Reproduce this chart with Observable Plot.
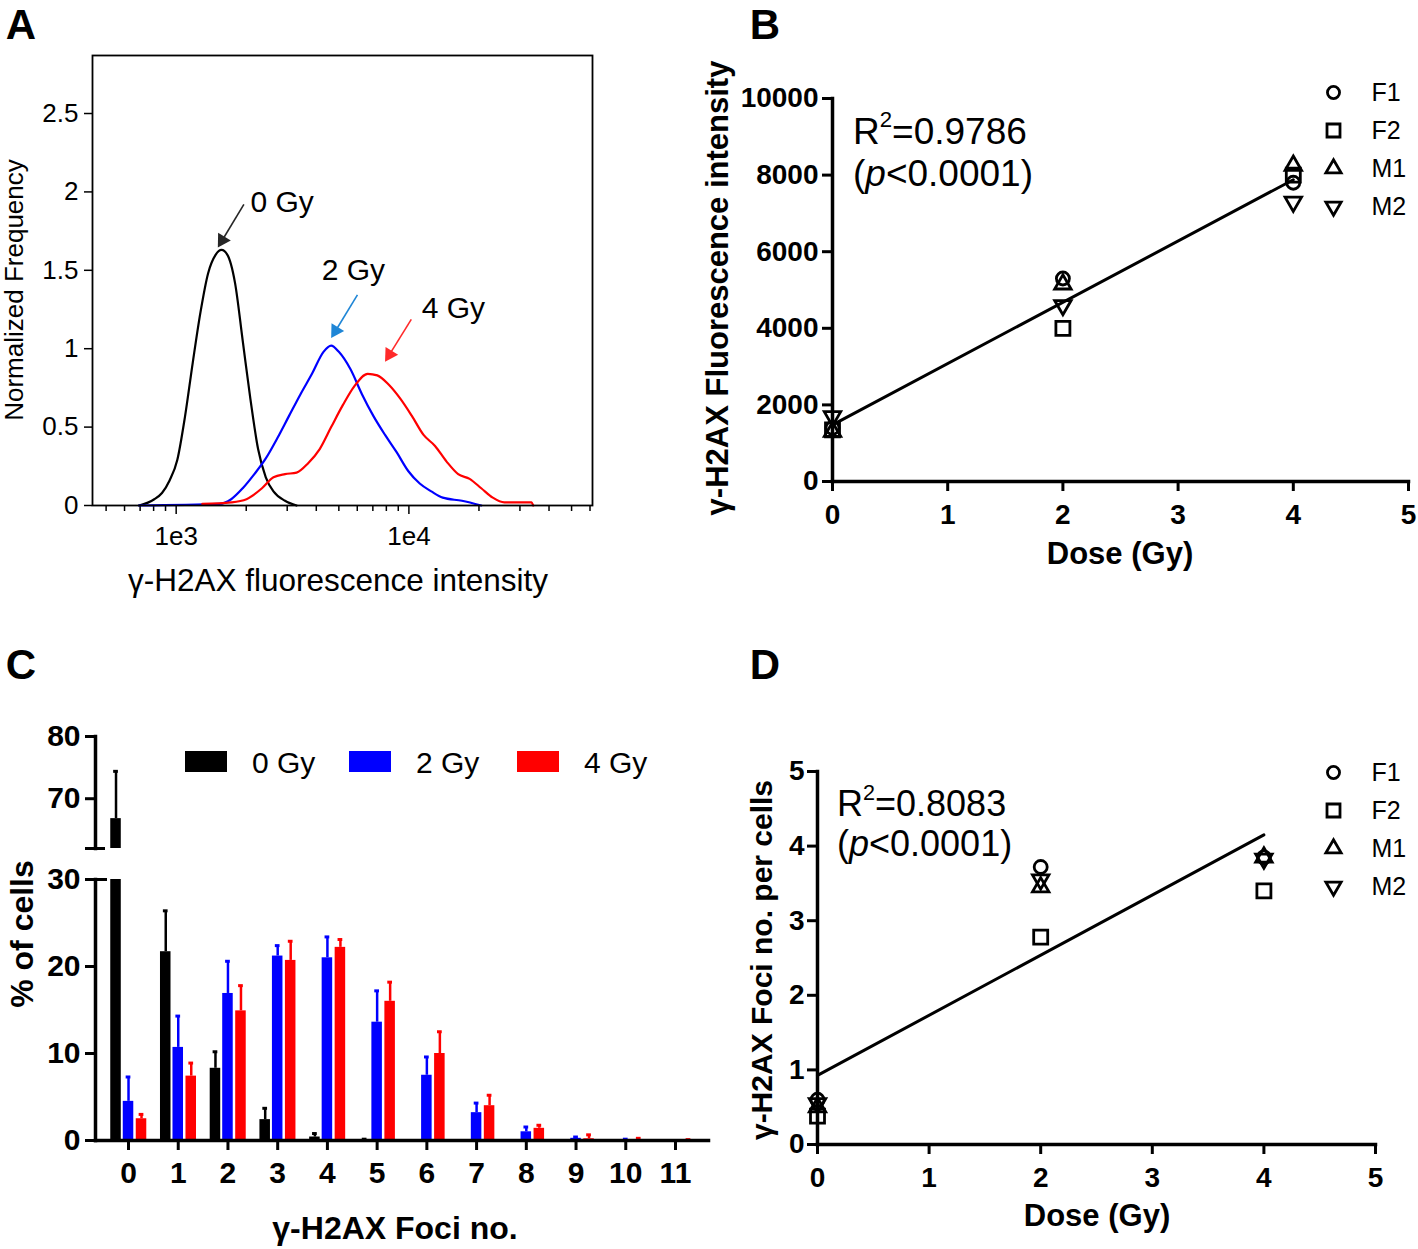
<!DOCTYPE html>
<html><head><meta charset="utf-8">
<script src="https://cdn.jsdelivr.net/npm/d3@7"></script>
<script src="https://cdn.jsdelivr.net/npm/@observablehq/plot@0.6"></script>
<style>
body{margin:0;background:#fff;}
#root{position:relative;width:1418px;height:1249px;overflow:hidden;background:#fff;font-family:"Liberation Sans",Arial,Helvetica,sans-serif;color:#000;}
.abs{position:absolute;white-space:nowrap;line-height:1;}
.ctr{transform:translate(-50%,-50%);}
.vc{transform:translate(0,-50%);}
.rot{transform:translate(-50%,-50%) rotate(-90deg);}
.b{font-weight:bold;}
sup{font-size:0.6em;position:relative;top:-0.75em;vertical-align:baseline;}
.sw{position:absolute;}
</style></head><body><div id="root"></div><script>
// ---------------- DATA ----------------
// Panel A: histograms (intensity, normalized frequency)
const hist0Gy = [[692,0],[805,0.04],[869,0.08],[937,0.16],[1011,0.29],[1092,0.57],[1178,0.91],[1271,1.23],[1371,1.48],[1479,1.6],[1566,1.63],[1658,1.6],[1790,1.42],[1932,1.05],[2084,0.68],[2249,0.36],[2427,0.18],[2619,0.09],[2936,0.03],[3291,0]];
const hist2Gy = [[692,0],[1537,0.01],[1723,0.04],[1932,0.11],[2167,0.2],[2427,0.3],[2723,0.43],[3051,0.57],[3422,0.71],[3833,0.84],[4295,0.98],[4634,1.02],[5000,0.98],[5605,0.87],[6284,0.71],[7043,0.57],[7899,0.45],[8855,0.34],[9932,0.22],[11130,0.14],[12480,0.09],[13970,0.05],[16900,0.03],[20460,0]];
const hist4Gy = [[1295,0.01],[1723,0.02],[2005,0.04],[2337,0.11],[2619,0.18],[2936,0.2],[3291,0.21],[3690,0.27],[4138,0.36],[4634,0.5],[5200,0.64],[5823,0.76],[6653,0.84],[7315,0.83],[8200,0.77],[9200,0.68],[10310,0.57],[11560,0.45],[12950,0.38],[14520,0.28],[16280,0.2],[18240,0.17],[20460,0.11],[22930,0.05],[25700,0.02],[33590,0.02],[34200,0]];
const histLabels = ["0 Gy","2 Gy","4 Gy"];
const arrowTail = [[1954,1.92],[6010,1.343],[10240,1.187]];
const arrowHead = [[1510,1.645],[4634,1.068],[7900,0.917]];
const labelAt = [[2084,1.93],[4217,1.50],[11350,1.256]];
const yTicksA = [0,0.5,1,1.5,2,2.5];
const xMajorA = [1000, 10000];

// Panels B & D
const doses = [0, 2, 4];
const seriesNames = ["F1","F2","M1","M2"];
const fluorF1 = [1400, 5300, 7800];
const fluorF2 = [1350, 4000, 8000];
const fluorM1 = [1300, 5150, 8250];
const fluorM2 = [1700, 4600, 7300];
const fociF1 = [0.6, 3.72, 3.85];
const fociF2 = [0.38, 2.78, 3.4];
const fociM1 = [0.5, 3.45, 3.85];
const fociM2 = [0.55, 3.55, 3.83];
const r2B = "0.9786", r2D = "0.8083", pText = "0.0001";

// Panel C
const fociNo = [0,1,2,3,4,5,6,7,8,9,10,11];
const doseLabels = ["0 Gy","2 Gy","4 Gy"];
const pct0Gy = [66.8, 21.7, 8.3, 2.4, 0.4, 0.08, 0, 0, 0, 0, 0, 0];
const sd0Gy  = [7.6, 4.7, 1.9, 1.3, 0.4, 0.07, 0, 0, 0, 0, 0, 0];
const pct2Gy = [4.5, 10.7, 16.9, 21.2, 21.0, 13.6, 7.5, 3.2, 1.0, 0.25, 0.1, 0];
const sd2Gy  = [2.8, 3.6, 3.7, 1.2, 2.4, 3.6, 2.1, 1.1, 0.55, 0.15, 0.05, 0];
const pct4Gy = [2.5, 7.4, 14.9, 20.7, 22.2, 16.0, 10.0, 4.0, 1.4, 0.2, 0.1, 0.05];
const sd4Gy  = [0.5, 1.5, 2.9, 2.2, 0.9, 2.2, 2.5, 1.2, 0.35, 0.45, 0.15, 0.05];

// ---------------- STYLE ----------------
const FONT = '"Liberation Sans", Arial, Helvetica, sans-serif';
const colorA = {"0 Gy":"#000000","2 Gy":"#0000ff","4 Gy":"#ff0000"};
const arrowColorA = {"0 Gy":"#262626","2 Gy":"#1f86d6","4 Gy":"#ff2a2a"};
const colorC = {"0 Gy":"#000000","2 Gy":"#0000ff","4 Gy":"#ff0000"};
const offsetC = {"0 Gy":-12.5,"2 Gy":0,"4 Gy":13};

const root = document.getElementById("root");
function put(node, left, top){ node.style.position="absolute"; node.style.left=left+"px"; node.style.top=top+"px"; root.appendChild(node); return node; }
function txt(html, left, top, cls, css){ const d=document.createElement("div"); d.className="abs "+(cls||""); d.innerHTML=html; d.style.left=left+"px"; d.style.top=top+"px"; Object.assign(d.style, css||{}); root.appendChild(d); return d; }

// custom outline symbols (size = pi*r^2)
const rad = size => Math.sqrt(size/Math.PI);
const symCircle = { draw(c, size){ const r = rad(size)*0.93; c.moveTo(r,0); c.arc(0,0,r,0,2*Math.PI); } };
const symSquare = { draw(c, size){ const h = rad(size)*1.0; c.rect(-h,-h,2*h,2*h); } };
const symTriUp = { draw(c, size){ const s = rad(size)*2.35, h = s*Math.sqrt(3)/2; c.moveTo(0,-2*h/3); c.lineTo(s/2,h/3); c.lineTo(-s/2,h/3); c.closePath(); } };
const symTriDown = { draw(c, size){ const s = rad(size)*2.35, h = s*Math.sqrt(3)/2; c.moveTo(0,2*h/3); c.lineTo(s/2,-h/3); c.lineTo(-s/2,-h/3); c.closePath(); } };
const symbolScale = {domain: seriesNames, range: [symCircle, symSquare, symTriUp, symTriDown]};

// ---------------- PANEL A ----------------
const minorTicksA = [];
for (const e of [2,3,4]) for (let m=2;m<10;m++){ const v=m*10**e; if (v>=437 && v<=61500) minorTicksA.push(v); }
const histSets = [hist0Gy, hist2Gy, hist4Gy];
const arrowsA = histLabels.map((l,i)=>({label:l, x1:arrowTail[i][0], y1:arrowTail[i][1], x2:arrowHead[i][0], y2:arrowHead[i][1]}));
const textA = histLabels.map((l,i)=>({label:l, x:labelAt[i][0], y:labelAt[i][1]}));

function buildA(extra){
  return Plot.plot({
    width: 600, height: 560, marginLeft: 92, marginRight: 8, marginTop: 15, marginBottom: 95,
    x: {type: "log", domain: [437, 61500]},
    y: {domain: [0, 2.87]},
    style: {fontFamily: FONT, fontSize: "26px", background: "transparent", color: "#000", overflow: "visible"},
    marks: [
      Plot.axisY({ticks: yTicksA, tickFormat: d => String(d), tickSize: 8, tickPadding: 6, strokeWidth: 1.5, label: null}),
      Plot.axisX({ticks: minorTicksA, tickFormat: () => "", tickSize: 6, strokeWidth: 1.5, label: null}),
      Plot.axisX({ticks: xMajorA, tickFormat: d => "1e" + Math.round(Math.log10(d)), tickSize: 9, tickPadding: 12, strokeWidth: 1.5, label: null}),
      ...histSets.map((h,i) => Plot.line(h, {x: d => d[0], y: d => d[1], stroke: colorA[histLabels[i]], strokeWidth: 2.2, curve: "monotone-x"})),
      Plot.text(textA, {x:"x", y:"y", text:"label", textAnchor:"start", fontSize: 30}),
      ...extra,
      Plot.frame({stroke: "#000", strokeWidth: 1.8})
    ]
  });
}
// first pass to get scales, then draw arrows with filled triangular heads
const probeA = buildA([]);
const sxA = probeA.scale("x"), syA = probeA.scale("y");
const headR = 5.5, headBack = 2*Math.sqrt((Math.PI*headR*headR)/(3*Math.sqrt(3)));
const arrowMarks = arrowsA.flatMap(a => {
  const x1 = sxA.apply(a.x1), y1 = syA.apply(a.y1), x2 = sxA.apply(a.x2), y2 = syA.apply(a.y2);
  const dx = x2-x1, dy = y2-y1, len = Math.hypot(dx,dy);
  const cx = x2 - dx/len*headBack, cy = y2 - dy/len*headBack;
  const head = {x: sxA.invert(cx), y: syA.invert(cy), angle: Math.atan2(dx, -dy)*180/Math.PI};
  return [
    Plot.link([a], {x1:"x1", y1:"y1", x2: () => head.x, y2: () => head.y, stroke: arrowColorA[a.label], strokeWidth: 1.6}),
    Plot.dot([head], {x:"x", y:"y", rotate:"angle", symbol:"triangle", r: headR, fill: arrowColorA[a.label], stroke: "none"})
  ];
});
const plotA = buildA(arrowMarks);
put(plotA, 0, 40);
txt("A", 21, 25, "ctr b", {fontSize:"42px"});
txt("Normalized Frequency", 14, 290, "rot", {fontSize:"26px"});
txt("γ-H2AX fluorescence intensity", 338, 581, "ctr", {fontSize:"31.5px"});

// ---------------- PANELS B & D ----------------
function table(vals){ const out=[]; seriesNames.forEach((s,i)=>doses.forEach((d,j)=>out.push({series:s, dose:d, value: vals[i][j]}))); return out; }
const dataB = table([fluorF1, fluorF2, fluorM1, fluorM2]);
const dataD = table([fociF1, fociF2, fociM1, fociM2]);

function scatterPlot(data, o){
  return Plot.plot({
    width: o.width, height: o.height, marginLeft: o.ml, marginRight: o.mr, marginTop: o.mt, marginBottom: o.mb,
    x: {domain: [0,5]}, y: {domain: o.ydom},
    symbol: symbolScale,
    style: {fontFamily: FONT, fontSize: o.fs, fontWeight: "bold", background: "transparent", color: "#000", overflow: "visible"},
    marks: [
      Plot.axisY({ticks: o.yticks, tickFormat: d => String(d), tickSize: 10, tickPadding: o.ypad, strokeWidth: 3, label: null}),
      Plot.axisX({ticks: [0,1,2,3,4,5], tickFormat: d => String(d), tickSize: 10, tickPadding: o.xpad, strokeWidth: 3, label: null}),
      Plot.frame({anchor: "left", strokeWidth: 3.5}),
      Plot.frame({anchor: "bottom", strokeWidth: 3.5}),
      Plot.linearRegressionY(data, {x: "dose", y: "value", ci: 0, stroke: "#000", strokeWidth: 3}),
      Plot.dot(data, {x: "dose", y: "value", symbol: "series", r: 7, stroke: "#000", fill: "none", strokeWidth: 2.8})
    ]
  });
}
function legendPlot(){
  return Plot.plot({
    width: 108, height: 160, margin: 0,
    y: {type: "point", domain: seriesNames, range: [22, 136], padding: 0, axis: null},
    symbol: symbolScale,
    style: {fontFamily: FONT, fontSize: "25px", background: "transparent", color: "#000", overflow: "visible"},
    marks: [
      Plot.dot(seriesNames, {y: d => d, symbol: d => d, frameAnchor: "left", dx: 23, r: 6.5, stroke: "#000", fill: "none", strokeWidth: 2.8}),
      Plot.text(seriesNames, {y: d => d, text: d => d, frameAnchor: "left", dx: 61, textAnchor: "start"})
    ]
  });
}

put(scatterPlot(dataB, {width:688, height:480, ml:102, mr:10, mt:38, mb:59, ydom:[0,10000], yticks:[0,2000,4000,6000,8000,10000], fs:"28px", ypad:4, xpad:13}), 730, 60);
put(legendPlot(), 1310, 70);
txt("B", 765, 25, "ctr b", {fontSize:"42px"});
txt("γ-H2AX Fluorescence intensity", 717, 288, "rot b", {fontSize:"31px"});
txt("Dose (Gy)", 1120, 553, "ctr b", {fontSize:"31px"});
txt("R<sup>2</sup>=" + r2B, 853, 131, "vc", {fontSize:"37px"});
txt("(<i>p</i>&lt;" + pText + ")", 853, 173, "vc", {fontSize:"37px"});

put(scatterPlot(dataD, {width:688, height:509, ml:87, mr:43, mt:31, mb:105, ydom:[0,5], yticks:[0,1,2,3,4,5], fs:"28px", ypad:3, xpad:13}), 730, 740);
put(legendPlot(), 1310, 750);
txt("D", 765, 665, "ctr b", {fontSize:"42px"});
txt("γ-H2AX Foci no. per cells", 762, 960, "rot b", {fontSize:"30px"});
txt("Dose (Gy)", 1097, 1215, "ctr b", {fontSize:"31px"});
txt("R<sup>2</sup>=" + r2D, 837, 804, "vc", {fontSize:"36px"});
txt("(<i>p</i>&lt;" + pText + ")", 837, 844, "vc", {fontSize:"36px"});

// ---------------- PANEL C ----------------
const pctByDose = [pct0Gy, pct2Gy, pct4Gy];
const sdByDose = [sd0Gy, sd2Gy, sd4Gy];
const rowsC = [];
fociNo.forEach((f,i) => doseLabels.forEach((d,j) => rowsC.push({foci: f, dose: d, pct: pctByDose[j][i], sd: sdByDose[j][i]})));

function barMarks(){
  return doseLabels.flatMap(d => {
    const rows = rowsC.filter(r => r.dose === d);
    const err = rows.filter(r => r.sd > 0);
    return [
      Plot.barY(rows, {x: "foci", y: "pct", fill: colorC[d], dx: offsetC[d], insetLeft: 19.6, insetRight: 19.6, clip: true}),
      Plot.ruleX(err, {x: "foci", y1: "pct", y2: r => r.pct + r.sd, stroke: colorC[d], strokeWidth: 2.5, dx: offsetC[d], clip: true}),
      Plot.tickY(err, {x: "foci", y: r => r.pct + r.sd, stroke: colorC[d], strokeWidth: 3, dx: offsetC[d], insetLeft: 22.5, insetRight: 22.5, clip: true})
    ];
  });
}
const xC = {type: "band", domain: fociNo, paddingInner: 0, paddingOuter: 0.164, round: false};
const styleC = {fontFamily: FONT, fontSize: "30px", fontWeight: "bold", background: "transparent", color: "#000", overflow: "visible"};

const plotCLow = Plot.plot({
  width: 720, height: 340, marginLeft: 95, marginRight: 12, marginTop: 19, marginBottom: 60,
  x: xC, y: {domain: [0, 30]}, style: styleC,
  marks: [
    ...barMarks(),
    Plot.axisY({ticks: [0,10,20,30], tickSize: 10, tickPadding: 5, strokeWidth: 3, label: null}),
    Plot.axisY({ticks: [30], tickSize: 22, dx: 12, tickFormat: () => "", strokeWidth: 3, label: null}),
    Plot.axisX({tickSize: 10, tickPadding: 11, strokeWidth: 3, label: null}),
    Plot.frame({anchor: "left", strokeWidth: 3.5}),
    Plot.frame({anchor: "bottom", strokeWidth: 3.5})
  ]
});
put(plotCLow, 0, 860);

const plotCHigh = Plot.plot({
  width: 720, height: 140, marginLeft: 95, marginRight: 12, marginTop: 16, marginBottom: 12,
  x: {...xC, axis: null}, y: {domain: [62, 80]}, style: styleC,
  marks: [
    ...barMarks(),
    Plot.axisY({ticks: [70,80], tickSize: 10, tickPadding: 5, strokeWidth: 3, label: null}),
    Plot.axisY({ticks: [62], tickSize: 20, dx: 10, tickFormat: () => "", strokeWidth: 3, label: null}),
    Plot.frame({anchor: "left", strokeWidth: 3.5})
  ]
});
put(plotCHigh, 0, 720);

// legend C
const swLeft = [185, 349, 517];
doseLabels.forEach((d,i) => {
  const s = document.createElement("div");
  s.className = "sw";
  Object.assign(s.style, {left: swLeft[i]+"px", top: "751px", width: "42px", height: "21px", background: colorC[d]});
  root.appendChild(s);
  txt(d, swLeft[i] + 67, 763, "vc", {fontSize: "30px"});
});
txt("C", 21, 665, "ctr b", {fontSize:"42px"});
txt("% of cells", 22, 934, "rot b", {fontSize:"32px"});
txt("γ-H2AX Foci no.", 395, 1228, "ctr b", {fontSize:"32px"});
</script></body></html>
